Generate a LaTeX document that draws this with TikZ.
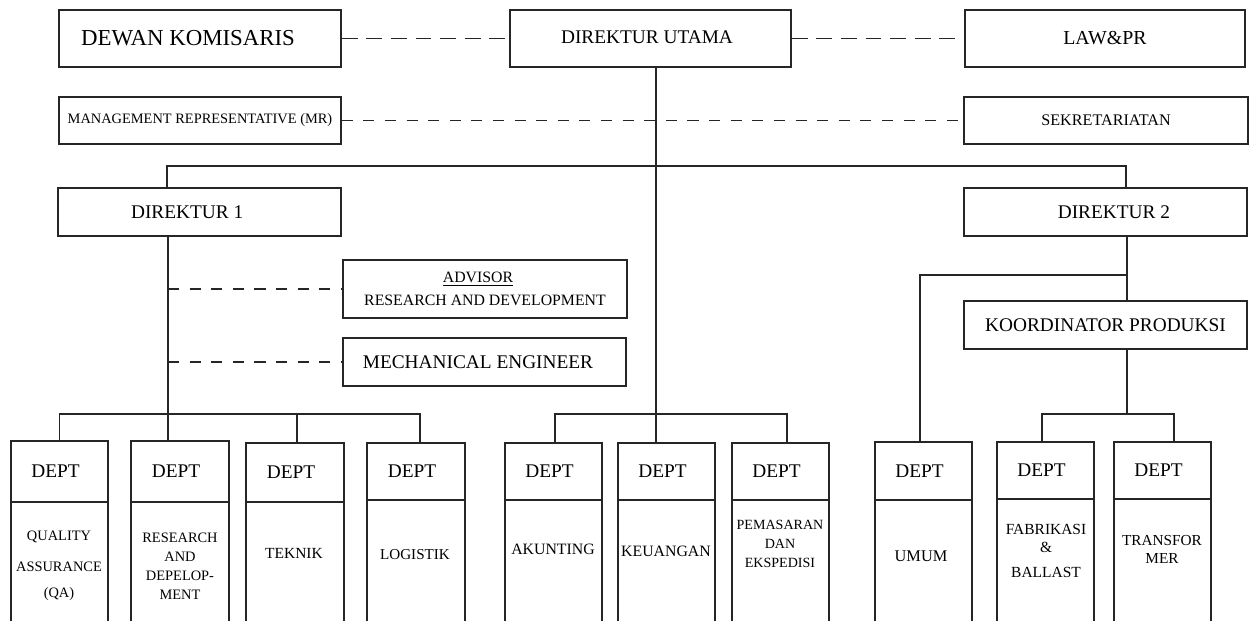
\documentclass[tikz,border=0pt]{standalone}
\usepackage{fontspec}
\setmainfont{Liberation Serif}
\usetikzlibrary{calc}
\tikzset{
  box/.style={draw=black!85, line width=0.8pt, inner sep=0pt, align=center, font=\fontsize{11}{13}\selectfont},
  link/.style={draw=black!85, line width=0.8pt},
  dlinktop/.style={link, dash pattern=on 9pt off 5pt},
  dlink/.style={link, dash pattern=on 6.3pt off 6pt},
  dtxt/.style={align=center, inner sep=0pt},
}
\newcommand\fs[2]{\fontsize{#1}{#2}\selectfont}
% \bx{name}{x1}{y1}{x2}{y2}{options}{text}
\newcommand\bx[7]{%
  \node[box,#6,minimum width={(#4-#2)*0.02cm},minimum height={(#5-#3)*0.02cm}] (#1) at ({(#2+#4)/2},{(#3+#5)/2}) {#7};}
\begin{document}
\begin{tikzpicture}[x=0.02cm,y=-0.02cm]
\useasboundingbox (0,0) rectangle (1253,620);
\clip (0,0) rectangle (1253,620);
% top level
\bx{dk}{59}{10}{341}{67}{font=\fs{13}{15}}{DEWAN KOMISARIS\kern13.6pt}
\bx{du}{510}{10}{791}{67}{}{\raisebox{1.4pt}{DIREKTUR UTAMA}\kern4pt}
\bx{law}{965}{10}{1245}{67}{font=\fs{11.3}{13}}{LAW\&PR}
\bx{mr}{59}{97}{341}{144}{font=\fs{8.2}{10}}{MANAGEMENT REPRESENTATIVE (MR)}
\bx{sek}{964}{97}{1248}{144}{font=\fs{9.2}{11}}{SEKRETARIATAN}
\bx{d1}{58}{188}{341}{236}{}{DIREKTUR 1\kern14pt}
\bx{d2}{964}{188}{1247}{236}{}{\kern9.6pt DIREKTUR 2}
\bx{adv}{343}{260}{627}{318}{font=\fs{9}{11}}{\underline{ADVISOR}\kern8pt\\[2.5pt]RESEARCH AND DEVELOPMENT}
\bx{me}{343}{338}{626}{386}{}{MECHANICAL ENGINEER\kern7.4pt}
\bx{kp}{964}{301}{1247}{349}{}{KOORDINATOR PRODUKSI}
% department heads
\foreach \n/\xa/\xb/\ya/\yb in {qa/11/108/441/502, rd/131/229/441/502, tk/246/344/443/502, lg/367/465/443/500,
  ak/505/602/443/500, ke/618/715/443/500, pm/732/829/443/500,
  um/875/972/442/500, fb/997/1094/442/499, tr/1114/1211/442/499}{
  \bx{\n}{\xa}{\ya}{\xb}{\yb}{}{DEPT\kern4.5pt}
  \bx{\n b}{\xa}{\yb}{\xb}{623}{}{}
}
% department names
\node[dtxt, font=\fs{8.2}{9.84}] (qat) at (59,566) {QUALITY\\[7.8pt]ASSURANCE\\[4.9pt](QA)};
\node[dtxt, font=\fs{8.2}{10.8}] (rdt) at (180,566.5) {RESEARCH\\AND\\DEPELOP-\\MENT};
\node[dtxt, font=\fs{8.8}{10.5}] (tkt) at (294,553) {TEKNIK};
\node[dtxt, font=\fs{8.6}{10.5}] (lgt) at (415,555) {LOGISTIK};
\node[dtxt, font=\fs{9}{10.5}] (akt) at (553,549) {AKUNTING};
\node[dtxt, font=\fs{9}{10.5}] (ket) at (666,551) {KEUANGAN};
\node[dtxt, font=\fs{8}{10.8}] (pmt) at (780,544) {PEMASARAN\\DAN\\EKSPEDISI};
\node[dtxt, font=\fs{9.3}{11}] (umt) at (921,556) {UMUM};
\node[dtxt, font=\fs{8.8}{10.2}] (fbt) at (1046,551) {FABRIKASI\\\&\\[4pt]BALLAST};
\node[dtxt, font=\fs{8.7}{10.2}] (trt) at (1162,549) {TRANSFOR\\MER};
% junction coordinates
\coordinate (cu) at (656,166);
\coordinate (b1) at (167,166);
\coordinate (b2) at (1126,166);
\coordinate (v1) at (168,414);
\coordinate (v2) at (1127,275);
\coordinate (h1) at (0,414);
% dashed staff links
\draw[dlinktop] (dk.east) -- (du.west);
\draw[dlinktop] (du.east) -- (law.west);
\draw[dlink] (mr.east) -- (sek.west);
\draw[dlink] (v1 |- adv.west) -- (adv.west);
\draw[dlink] (v1 |- me.west) -- (me.west);
% solid hierarchy
\draw[link] (cu |- du.south) -- (cu |- ke.north);
\draw[link] (b1 |- d1.north) -- (b1) -- (b2) -- (b2 |- d2.north);
\draw[link] (v1 |- d1.south) -- (v1 |- rd.north);
\draw[link] (qa.north) -- (qa.north |- h1) -- ($(lg.north |- h1)+(4,0)$) -- ($(lg.north)+(4,0)$);
\draw[link] ($(tk.north)+(2,0)$) -- ($(tk.north |- h1)+(2,0)$);
\draw[link] ($(ak.north)+(1.5,0)$) -- ($(ak.north |- h1)+(1.5,0)$) -- ($(pm.north |- h1)+(6.5,0)$) -- ($(pm.north)+(6.5,0)$);
\draw[link] (v2 |- d2.south) -- (v2 |- kp.north);
\draw[link] (v2) -- ($(v2 -| um.north)+(-3.5,0)$) -- ($(um.north)+(-3.5,0)$);
\draw[link] (v2 |- kp.south) -- (v2 |- h1);
\draw[link] ($(fb.north)+(-3.5,0)$) -- ($(fb.north |- h1)+(-3.5,0)$) -- ($(tr.north |- h1)+(11.5,0)$) -- ($(tr.north)+(11.5,0)$);
\end{tikzpicture}
\end{document}
